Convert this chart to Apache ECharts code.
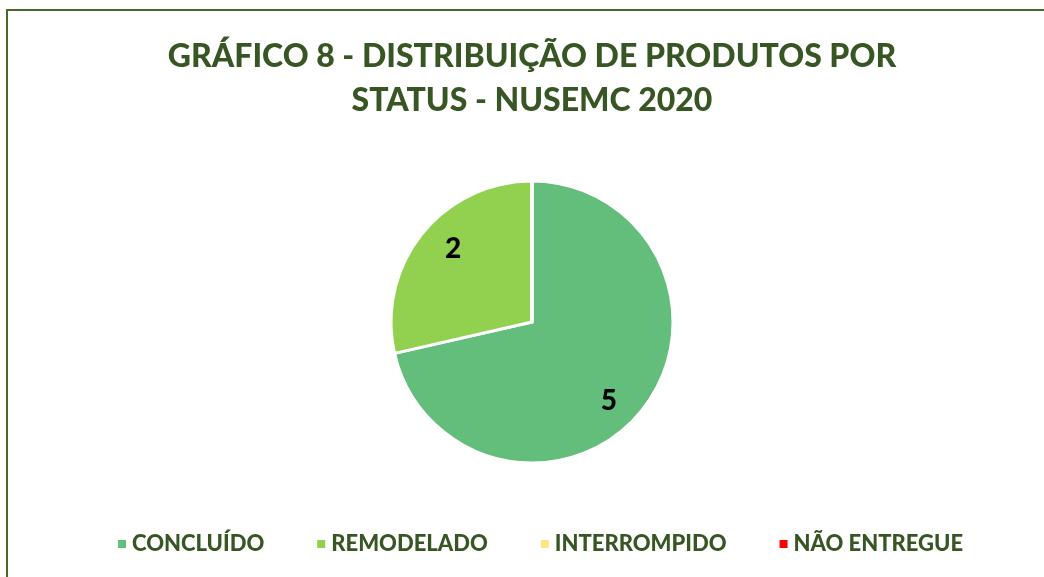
<!DOCTYPE html>
<html>
<head>
<meta charset="utf-8">
<script src="https://cdn.jsdelivr.net/npm/echarts@6/dist/echarts.min.js"></script>
<style>
html,body{margin:0;padding:0;width:1044px;height:577px;overflow:hidden;background:#fff;}
#frame{position:absolute;left:6px;top:9px;width:1100px;height:640px;border:2px solid #46692c;box-sizing:border-box;}
#chart{position:absolute;left:0;top:0;width:1044px;height:577px;}
</style>
</head>
<body>
<div id="frame"></div>
<div id="chart"></div>
<script>
const titleText = "GRÁFICO 8 - DISTRIBUIÇÃO DE PRODUTOS POR\nSTATUS - NUSEMC 2020";
const categories = ["CONCLUÍDO", "REMODELADO", "INTERROMPIDO", "NÃO ENTREGUE"];
const values = [5, 2, 0, 0];
const colors = ["#63be7b", "#92d050", "#ffe680", "#ff0000"];

const data = categories.map((c, i) => ({ name: c, value: values[i], itemStyle: { color: colors[i] } }));
const textColor = "#375623";
const font = "Lato";
const labelOffsets = [[-11, 9], [9, -3], [0, 0], [0, 0]];

const chart = echarts.init(document.getElementById('chart'), null, { renderer: 'canvas' });
chart.setOption({
  animation: false,
  title: {
    text: titleText,
    left: 527,
    textAlign: 'center',
    top: 30,
    textStyle: { fontFamily: font, fontWeight: 900, fontSize: 32, color: textColor, lineHeight: 44 }
  },
  legend: {
    bottom: 17,
    left: 111,
    itemWidth: 10,
    itemHeight: 10,
    itemGap: 51,
    icon: 'rect',
    data: categories,
    textStyle: { fontFamily: font, fontWeight: 900, fontSize: 22, color: textColor }
  },
  series: [
    {
      type: 'pie',
      center: [532, 322],
      radius: [0, 141],
      startAngle: 90,
      clockwise: true,
      avoidLabelOverlap: false,
      stillShowZeroSum: false,
      itemStyle: { borderColor: '#fff', borderWidth: 3 },
      label: { show: false },
      labelLine: { show: false },
      emphasis: { disabled: true },
      data: data
    },
    {
      type: 'pie',
      center: [532, 322],
      radius: [78, 141],
      startAngle: 90,
      clockwise: true,
      silent: true,
      avoidLabelOverlap: false,
      legendHoverLink: false,
      itemStyle: { color: 'transparent', borderWidth: 0 },
      label: {
        show: true,
        position: 'inside',
        formatter: p => p.value > 0 ? String(p.value) : '',
        fontFamily: font, fontWeight: 900, fontSize: 28, color: '#000'
      },
      labelLine: { show: false },
      emphasis: { disabled: true },
      data: categories.map((c, i) => ({ name: c + ' ', value: values[i], label: { offset: labelOffsets[i] } }))
    }
  ]
});
</script>
</body>
</html>
